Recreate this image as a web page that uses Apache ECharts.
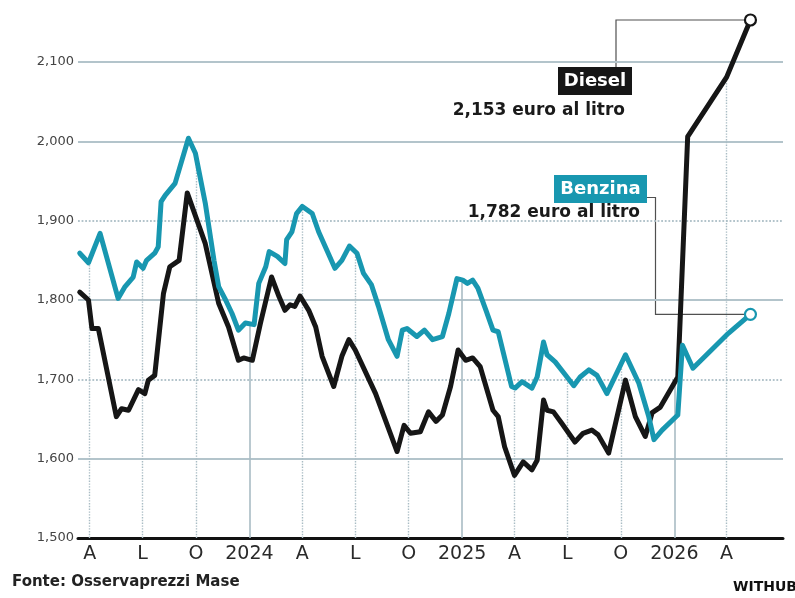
<!DOCTYPE html>
<html>
<head>
<meta charset="utf-8">
<title>Prezzi carburanti</title>
<script src="https://cdn.jsdelivr.net/npm/echarts@6/dist/echarts.min.js"></script>
<style>
html, body { margin: 0; padding: 0; background: #fff; }
#chart { width: 795px; height: 598px; }
</style>
</head>
<body>
<div id="chart"></div>
<script>
// prezzi medi, euro al litro
var benzinaDates = [
  '2023-03-15','2023-03-30','2023-04-19','2023-05-20','2023-06-01','2023-06-15','2023-06-21','2023-07-02',
  '2023-07-08','2023-07-22','2023-07-28','2023-08-02','2023-08-09','2023-08-26','2023-09-18','2023-09-30',
  '2023-10-17','2023-11-01','2023-11-09','2023-11-21','2023-12-02','2023-12-13','2023-12-25','2024-01-09',
  '2024-01-17','2024-01-29','2024-02-04','2024-02-18','2024-03-02','2024-03-05','2024-03-14','2024-03-22',
  '2024-04-01','2024-04-18','2024-04-29','2024-05-13','2024-05-27','2024-06-08','2024-06-21','2024-07-04',
  '2024-07-15','2024-07-29','2024-08-10','2024-08-27','2024-09-11','2024-09-20','2024-09-28','2024-10-15',
  '2024-10-28','2024-11-11','2024-11-28','2024-12-09','2024-12-23','2025-01-02','2025-01-10','2025-01-19',
  '2025-01-28','2025-02-11','2025-02-23','2025-03-04','2025-03-13','2025-03-27','2025-04-02','2025-04-14',
  '2025-05-01','2025-05-10','2025-05-21','2025-05-27','2025-06-10','2025-06-25','2025-07-12','2025-07-23',
  '2025-08-07','2025-08-21','2025-09-07','2025-10-09','2025-11-01','2025-11-18','2025-11-27','2025-12-11',
  '2026-01-07','2026-01-15','2026-02-02','2026-04-04','2026-05-12'
];
var benzinaValues = [
  1.859,1.847,1.884,1.802,1.817,1.829,1.848,1.840,
  1.850,1.859,1.867,1.924,1.932,1.947,2.004,1.985,
  1.922,1.850,1.817,1.800,1.783,1.762,1.771,1.769,
  1.821,1.842,1.861,1.855,1.846,1.876,1.886,1.909,
  1.918,1.909,1.886,1.863,1.840,1.850,1.868,1.859,
  1.834,1.819,1.792,1.750,1.729,1.762,1.764,1.754,
  1.762,1.750,1.754,1.783,1.827,1.825,1.821,1.825,
  1.815,1.787,1.762,1.760,1.733,1.691,1.689,1.697,
  1.689,1.703,1.747,1.731,1.722,1.708,1.692,1.703,
  1.712,1.705,1.682,1.731,1.695,1.653,1.624,1.636,
  1.655,1.743,1.714,1.758,1.782
];
var dieselDates = [
  '2023-03-15','2023-03-30','2023-04-05','2023-04-16','2023-05-17','2023-05-26','2023-06-07','2023-06-24',
  '2023-07-05','2023-07-11','2023-07-22','2023-08-06','2023-08-17','2023-09-02','2023-09-16','2023-10-17',
  '2023-11-09','2023-11-26','2023-12-13','2023-12-22','2024-01-06','2024-01-20','2024-02-08','2024-02-21',
  '2024-03-02','2024-03-11','2024-03-19','2024-03-28','2024-04-12','2024-04-24','2024-05-05','2024-05-25',
  '2024-06-08','2024-06-20','2024-07-01','2024-08-05','2024-09-11','2024-09-23','2024-10-04','2024-10-21',
  '2024-11-04','2024-11-17','2024-11-28','2024-12-12','2024-12-25','2025-01-07','2025-01-19','2025-02-01',
  '2025-02-11','2025-02-23','2025-03-04','2025-03-15','2025-04-01','2025-04-16','2025-05-01','2025-05-10',
  '2025-05-21','2025-05-27','2025-06-07','2025-06-21','2025-07-14','2025-07-28','2025-08-12','2025-08-23',
  '2025-09-10','2025-10-09','2025-10-26','2025-11-12','2025-11-24','2025-12-08','2026-01-07','2026-01-24',
  '2026-04-01','2026-05-12'
];
var dieselValues = [
  1.810,1.800,1.764,1.764,1.653,1.663,1.661,1.687,
  1.682,1.699,1.705,1.808,1.842,1.850,1.935,1.871,
  1.796,1.766,1.724,1.727,1.724,1.771,1.829,1.804,
  1.787,1.794,1.792,1.805,1.787,1.766,1.729,1.691,
  1.729,1.750,1.737,1.682,1.609,1.642,1.632,1.634,
  1.659,1.647,1.655,1.691,1.737,1.724,1.727,1.716,
  1.691,1.661,1.653,1.615,1.579,1.596,1.586,1.598,
  1.674,1.661,1.659,1.645,1.621,1.632,1.636,1.630,
  1.607,1.699,1.653,1.628,1.658,1.665,1.703,2.006,
  2.081,2.153
];

var yTicks = [1.5, 1.6, 1.7, 1.8, 1.9, 2.0, 2.1];
var yDotted = [1.7, 1.9];
var xTickDates = ['2023-04-01','2023-07-01','2023-10-01','2024-01-01','2024-04-01','2024-07-01','2024-10-01',
                  '2025-01-01','2025-04-01','2025-07-01','2025-10-01','2026-01-01','2026-04-01'];
var xTickLabels = ['A','L','O','2024','A','L','O','2025','A','L','O','2026','A'];

var TEAL = '#1897b0';
var BLACK = '#161616';
var GRID = '#b3c4cb';
var FONT = '"DejaVu Sans", Verdana, sans-serif';

function toTime(s) { return Date.parse(s + 'T00:00:00Z'); }
function fmt(v) { return v.toFixed(3).replace('.', ','); }

function makeSeriesData(dates, values, color) {
  return dates.map(function (d, i) {
    var point = [toTime(d), values[i]];
    if (i === dates.length - 1) {
      return {
        value: point,
        symbol: 'circle',
        symbolSize: 11,
        itemStyle: { color: '#fff', borderColor: color, borderWidth: 2.2 }
      };
    }
    return point;
  });
}

// valore della serie alla data t (per le linee verticali)
function valueAt(dates, values, t) {
  for (var i = 0; i < dates.length - 1; i++) {
    var a = toTime(dates[i]), b = toTime(dates[i + 1]);
    if (t >= a && t <= b) return values[i] + (values[i + 1] - values[i]) * (t - a) / (b - a);
  }
  return null;
}

var tickTimes = xTickDates.map(toTime);

var gridLines = yTicks.slice(1).map(function (v) {
  return {
    yAxis: v,
    lineStyle: { color: GRID, width: 1.8, type: yDotted.indexOf(v) >= 0 ? 'dotted' : 'solid' }
  };
});
var dropLines = tickTimes.map(function (t, i) {
  var top = Math.max(valueAt(dieselDates, dieselValues, t), valueAt(benzinaDates, benzinaValues, t));
  var isYear = xTickLabels[i].length === 4;
  return [
    { coord: [t, yTicks[0]], lineStyle: { color: '#a9bcc4', width: isYear ? 1.6 : 1.4, type: isYear ? 'solid' : 'dotted' } },
    { coord: [t, top] }
  ];
});

var chart = echarts.init(document.getElementById('chart'));
chart.setOption({
  animation: false,
  textStyle: { fontFamily: FONT },
  grid: { left: 78, right: 12, top: 6.5, bottom: 60 },
  xAxis: {
    type: 'value',
    min: toTime('2023-03-12'),
    max: toTime('2026-07-07'),
    axisLine: { lineStyle: { color: '#111', width: 3 } },
    axisTick: { show: false },
    splitLine: { show: false },
    axisLabel: {
      customValues: tickTimes,
      margin: 7,
      fontSize: 19,
      color: '#2a2a2a',
      fontFamily: FONT,
      formatter: function (value) {
        var idx = tickTimes.indexOf(value);
        return idx >= 0 ? xTickLabels[idx] : '';
      }
    }
  },
  yAxis: {
    type: 'value',
    min: 1.5,
    max: 2.17,
    interval: 0.1,
    axisLine: { show: false },
    axisTick: { show: false },
    splitLine: { show: false },
    axisLabel: {
      margin: 4,
      fontSize: 13,
      color: '#444',
      fontFamily: FONT,
      formatter: function (v) {
        return Math.abs(v * 10 - Math.round(v * 10)) < 1e-6 ? fmt(v) : '';
      }
    }
  },
  series: [
    {
      name: 'Diesel',
      type: 'line',
      z: 2,
      symbol: 'none',
      showSymbol: true,
      data: makeSeriesData(dieselDates, dieselValues, BLACK),
      lineStyle: { color: BLACK, width: 5, cap: 'round', join: 'round' },
      itemStyle: { color: BLACK },
      markLine: {
        z: 1,
        silent: true,
        symbol: ['none', 'none'],
        label: { show: false },
        data: gridLines.concat(dropLines)
      }
    },
    {
      name: 'Benzina',
      type: 'line',
      z: 3,
      symbol: 'none',
      showSymbol: true,
      data: makeSeriesData(benzinaDates, benzinaValues, TEAL),
      lineStyle: { color: TEAL, width: 5, cap: 'round', join: 'round' },
      itemStyle: { color: TEAL }
    }
  ]
});

// etichette con linee di richiamo
var dLast = dieselDates.length - 1, bLast = benzinaDates.length - 1;
var pD = chart.convertToPixel({ gridIndex: 0 }, [toTime(dieselDates[dLast]), dieselValues[dLast]]);
var pB = chart.convertToPixel({ gridIndex: 0 }, [toTime(benzinaDates[bLast]), benzinaValues[bLast]]);

chart.setOption({
  graphic: [
    { type: 'polyline', z: 0, shape: { points: [[616, 67], [616, pD[1]], [pD[0], pD[1]]] },
      style: { stroke: '#505050', lineWidth: 1.2, fill: null } },
    { type: 'polyline', z: 0, shape: { points: [[647, 197.5], [655.5, 197.5], [655.5, pB[1]], [pB[0], pB[1]]] },
      style: { stroke: '#505050', lineWidth: 1.2, fill: null } },
    { type: 'rect', shape: { x: 558, y: 67, width: 74, height: 28 }, style: { fill: BLACK } },
    { type: 'text', style: { text: 'Diesel', x: 595, y: 81.5, textAlign: 'center', textVerticalAlign: 'middle',
      fill: '#fff', font: 'bold 18px ' + FONT } },
    { type: 'text', style: { text: fmt(dieselValues[dLast]) + ' euro al litro', x: 625, y: 111, textAlign: 'right',
      textVerticalAlign: 'middle', fill: '#1a1a1a', font: 'bold 17px ' + FONT } },
    { type: 'rect', shape: { x: 554, y: 175, width: 93, height: 28 }, style: { fill: TEAL } },
    { type: 'text', style: { text: 'Benzina', x: 600.5, y: 189.5, textAlign: 'center', textVerticalAlign: 'middle',
      fill: '#fff', font: 'bold 18px ' + FONT } },
    { type: 'text', style: { text: fmt(benzinaValues[bLast]) + ' euro al litro', x: 640, y: 213, textAlign: 'right',
      textVerticalAlign: 'middle', fill: '#1a1a1a', font: 'bold 17px ' + FONT } },
    { type: 'text', style: { text: 'Fonte: Osservaprezzi Mase', x: 12, y: 582, textVerticalAlign: 'middle',
      fill: '#222', font: 'bold 15px ' + FONT } },
    { type: 'text', style: { text: 'WITHUB', x: 733, y: 587, textVerticalAlign: 'middle',
      fill: '#111', font: 'bold 14px ' + FONT } }
  ]
});
</script>
</body>
</html>
